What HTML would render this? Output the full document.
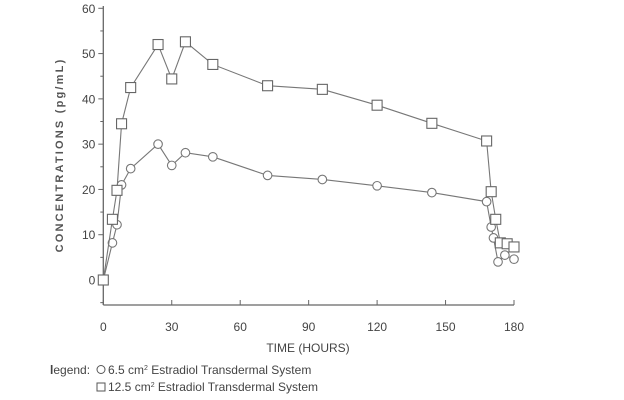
<!DOCTYPE html>
<html><head><meta charset="utf-8"><style>
body{margin:0;background:#fff}
svg{display:block;font-family:"Liberation Sans",sans-serif}
</style></head><body>
<svg id="chart" width="624" height="400" viewBox="0 0 624 400">
<g id="axes"></g>
<g id="series"></g>
<text transform="translate(63,155) rotate(-90)" text-anchor="middle" font-size="11" font-weight="bold" fill="#555" letter-spacing="2.2">CONCENTRATIONS (pg/mL)</text>
<text x="308" y="352" text-anchor="middle" font-size="12" fill="#444" transform="scale(1,1)">TIME (HOURS)</text>
<g font-size="12" fill="#444">
<text x="50" y="374"><tspan font-weight="bold">l</tspan>egend:</text>
<circle cx="101" cy="369.5" r="4" fill="none" stroke="#555"/>
<text x="108" y="374">6.5 cm<tspan font-size="7" dy="-4">2</tspan><tspan dy="4"> Estradiol Transdermal System</tspan></text>
<rect x="97" y="383" width="8" height="8" fill="none" stroke="#555"/>
<text x="108" y="391">12.5 cm<tspan font-size="7" dy="-4">2</tspan><tspan dy="4"> Estradiol Transdermal System</tspan></text>
</g>
</svg>
<script>
const xTicks=[0,30,60,90,120,150,180];
const yTicks=[0,10,20,30,40,50,60];
const timesCircle=[0,4,6,8,12,24,30,36,48,72,96,120,144,168,170,171,173,176,180];
const valuesCircle=[0,8.2,12.2,21,24.6,30,25.3,28.1,27.2,23.1,22.2,20.8,19.3,17.3,11.7,9.3,4.0,5.5,4.6];
const timesSquare=[0,4,6,8,12,24,30,36,48,72,96,120,144,168,170,172,174,177,180];
const valuesSquare=[0,13.4,19.8,34.5,42.5,52,44.4,52.6,47.6,42.9,42.1,38.6,34.6,30.7,19.5,13.4,8.2,8,7.3];
const NS='http://www.w3.org/2000/svg';
const X=t=>103.3+t*(514-103.3)/180;
const Y=v=>280-v*(280-8.3)/60;
function mk(tag,attrs,parent){const e=document.createElementNS(NS,tag);for(const k in attrs)e.setAttribute(k,attrs[k]);parent.appendChild(e);return e;}
const ax=document.getElementById('axes');
const col='#666';
let l=mk('line',{x1:X(0),y1:6,x2:X(0),y2:305,stroke:col,'stroke-width':1.3},ax);


l=mk('line',{x1:X(0),y1:305,x2:X(180),y2:305,stroke:col,'stroke-width':1.3},ax);


for(let v=-5;v<=60;v+=5){const t=mk('line',{x1:X(0)-(v%10===0?5:3),y1:Y(v),x2:X(0),y2:Y(v),stroke:col},ax);

}
yTicks.forEach(v=>{const t=mk('text',{x:X(0)-8,y:Y(v)+4.5,'text-anchor':'end','font-size':12,fill:'#444'},ax);t.textContent=v;

});
xTicks.forEach(v=>{const t=mk('line',{x1:X(v),y1:300,x2:X(v),y2:305,stroke:col},ax);


const s=mk('text',{x:X(v),y:331,'text-anchor':'middle','font-size':12,fill:'#444'},ax);s.textContent=v;

});
const sg=document.getElementById('series');
function draw(ts,vs,shape,name){
 const p=mk('polyline',{points:ts.map((t,i)=>X(t)+','+Y(vs[i])).join(' '),fill:'none',stroke:'#777','stroke-width':1.1},sg);
 
 
 ts.forEach((t,i)=>{let m;
  if(shape==='c')m=mk('circle',{cx:X(t),cy:Y(vs[i]),r:4.3,fill:'#fff',stroke:'#777','stroke-width':1.1},sg);
  else m=mk('rect',{x:X(t)-5,y:Y(vs[i])-5,width:10,height:10,fill:'#fff',stroke:'#666','stroke-width':1.1},sg);
  
  });
}
draw(timesCircle,valuesCircle,'c','series-6-5');
draw(timesSquare,valuesSquare,'s','series-12-5');
</script>
</body></html>
